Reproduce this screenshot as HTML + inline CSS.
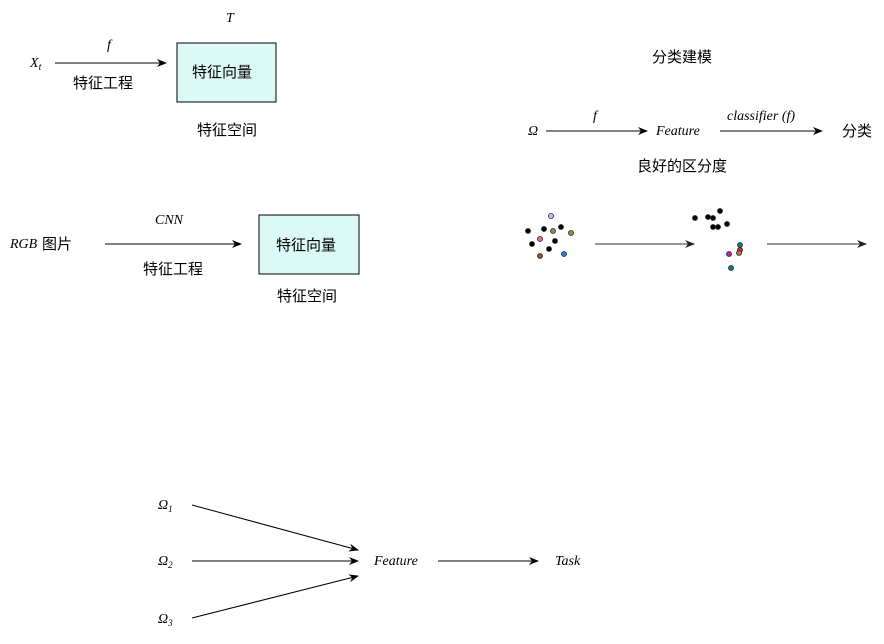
<!DOCTYPE html><html><head><meta charset="utf-8"><style>body{margin:0;background:#fff}</style></head><body>
<svg width="884" height="639" xmlns="http://www.w3.org/2000/svg" font-family="Liberation Serif, Noto Serif CJK SC, serif" font-size="14">
<defs><marker id="a" markerWidth="10" markerHeight="8" refX="9" refY="4" orient="auto" markerUnits="userSpaceOnUse"><path d="M0,0 L10,4 L0,8 L3,4z" fill="#000"/></marker>
<marker id="g" markerWidth="10" markerHeight="8" refX="9" refY="4" orient="auto" markerUnits="userSpaceOnUse"><path d="M0,0 L10,4 L0,8 L3,4z" fill="#222"/></marker></defs>
<g font-style="italic">
<text x="30" y="67">X<tspan font-size="10" dy="3">t</tspan></text>
<text x="107" y="49">f</text>
<text x="226" y="22">T</text>
<text x="155" y="224">CNN</text>
<text x="10" y="248">RGB</text>
<text x="528" y="135">Ω</text>
<text x="593" y="120">f</text>
<text x="656" y="135">Feature</text>
<text x="727" y="120">classifier (f)</text>
<text x="158" y="509">Ω<tspan font-size="9" dy="3">1</tspan></text>
<text x="158" y="565">Ω<tspan font-size="9" dy="3">2</tspan></text>
<text x="158" y="623">Ω<tspan font-size="9" dy="3">3</tspan></text>
<text x="374" y="565">Feature</text>
<text x="555" y="565">Task</text>
</g>
<g font-family="Liberation Sans, Noto Sans CJK SC, sans-serif" font-size="15">
<text x="73" y="88">特征工程</text>
<text x="197" y="135">特征空间</text>
<text x="42" y="249">图片</text>
<text x="143" y="274">特征工程</text>
<text x="277" y="301">特征空间</text>
<text x="652" y="62">分类建模</text>
<text x="842" y="136">分类</text>
<text x="637" y="171">良好的区分度</text>
</g>
<rect x="177" y="43" width="99" height="59" fill="#dbfaf5" stroke="#000"/>
<text x="192" y="77" font-family="Liberation Sans, Noto Sans CJK SC, sans-serif" font-size="15">特征向量</text>
<rect x="259" y="215" width="100" height="59" fill="#dbfaf5" stroke="#000"/>
<text x="276" y="250" font-family="Liberation Sans, Noto Sans CJK SC, sans-serif" font-size="15">特征向量</text>
<g stroke="#000" stroke-width="1" marker-end="url(#a)">
<line x1="55" y1="63" x2="166" y2="63"/>
<line x1="105" y1="244" x2="241" y2="244"/>
<line x1="546" y1="131" x2="647" y2="131"/>
<line x1="720" y1="131" x2="822" y2="131"/>
<line x1="192" y1="505" x2="358" y2="550"/>
<line x1="192" y1="561" x2="358" y2="561"/>
<line x1="192" y1="618" x2="358" y2="576"/>
<line x1="438" y1="561" x2="538" y2="561"/>
</g>
<g stroke="#777" stroke-width="1.5" marker-end="url(#g)">
<line x1="595" y1="244" x2="694" y2="244"/>
<line x1="767" y1="244" x2="866" y2="244"/>
</g>
<g stroke="#222" stroke-width="0.8">
<circle cx="551" cy="216" r="2.5" fill="#c8c0f0"/>
<circle cx="528" cy="231" r="2.5" fill="#000"/>
<circle cx="544" cy="229" r="2.5" fill="#000"/>
<circle cx="553" cy="231" r="2.5" fill="#a08850"/>
<circle cx="561" cy="227" r="2.5" fill="#000"/>
<circle cx="571" cy="233" r="2.5" fill="#60b030"/>
<circle cx="540" cy="239" r="2.5" fill="#f07070"/>
<circle cx="555" cy="241" r="2.5" fill="#000"/>
<circle cx="532" cy="244" r="2.5" fill="#000"/>
<circle cx="549" cy="249" r="2.5" fill="#000"/>
<circle cx="540" cy="256" r="2.5" fill="#806020"/>
<circle cx="564" cy="254" r="2.5" fill="#3080d0"/>
<circle cx="720" cy="211" r="2.5" fill="#000"/>
<circle cx="695" cy="218" r="2.5" fill="#000"/>
<circle cx="708" cy="217" r="2.5" fill="#000"/>
<circle cx="713" cy="218" r="2.5" fill="#000"/>
<circle cx="727" cy="224" r="2.5" fill="#000"/>
<circle cx="713" cy="227" r="2.5" fill="#000"/>
<circle cx="718" cy="227" r="2.5" fill="#000"/>
<circle cx="740" cy="245" r="2.5" fill="#108070"/>
<circle cx="740" cy="250" r="2.5" fill="#e02040"/>
<circle cx="739" cy="253" r="2.5" fill="#c07040"/>
<circle cx="729" cy="254" r="2.5" fill="#c020b0"/>
<circle cx="731" cy="268" r="2.5" fill="#108070"/>
</g>
</svg></body></html>
